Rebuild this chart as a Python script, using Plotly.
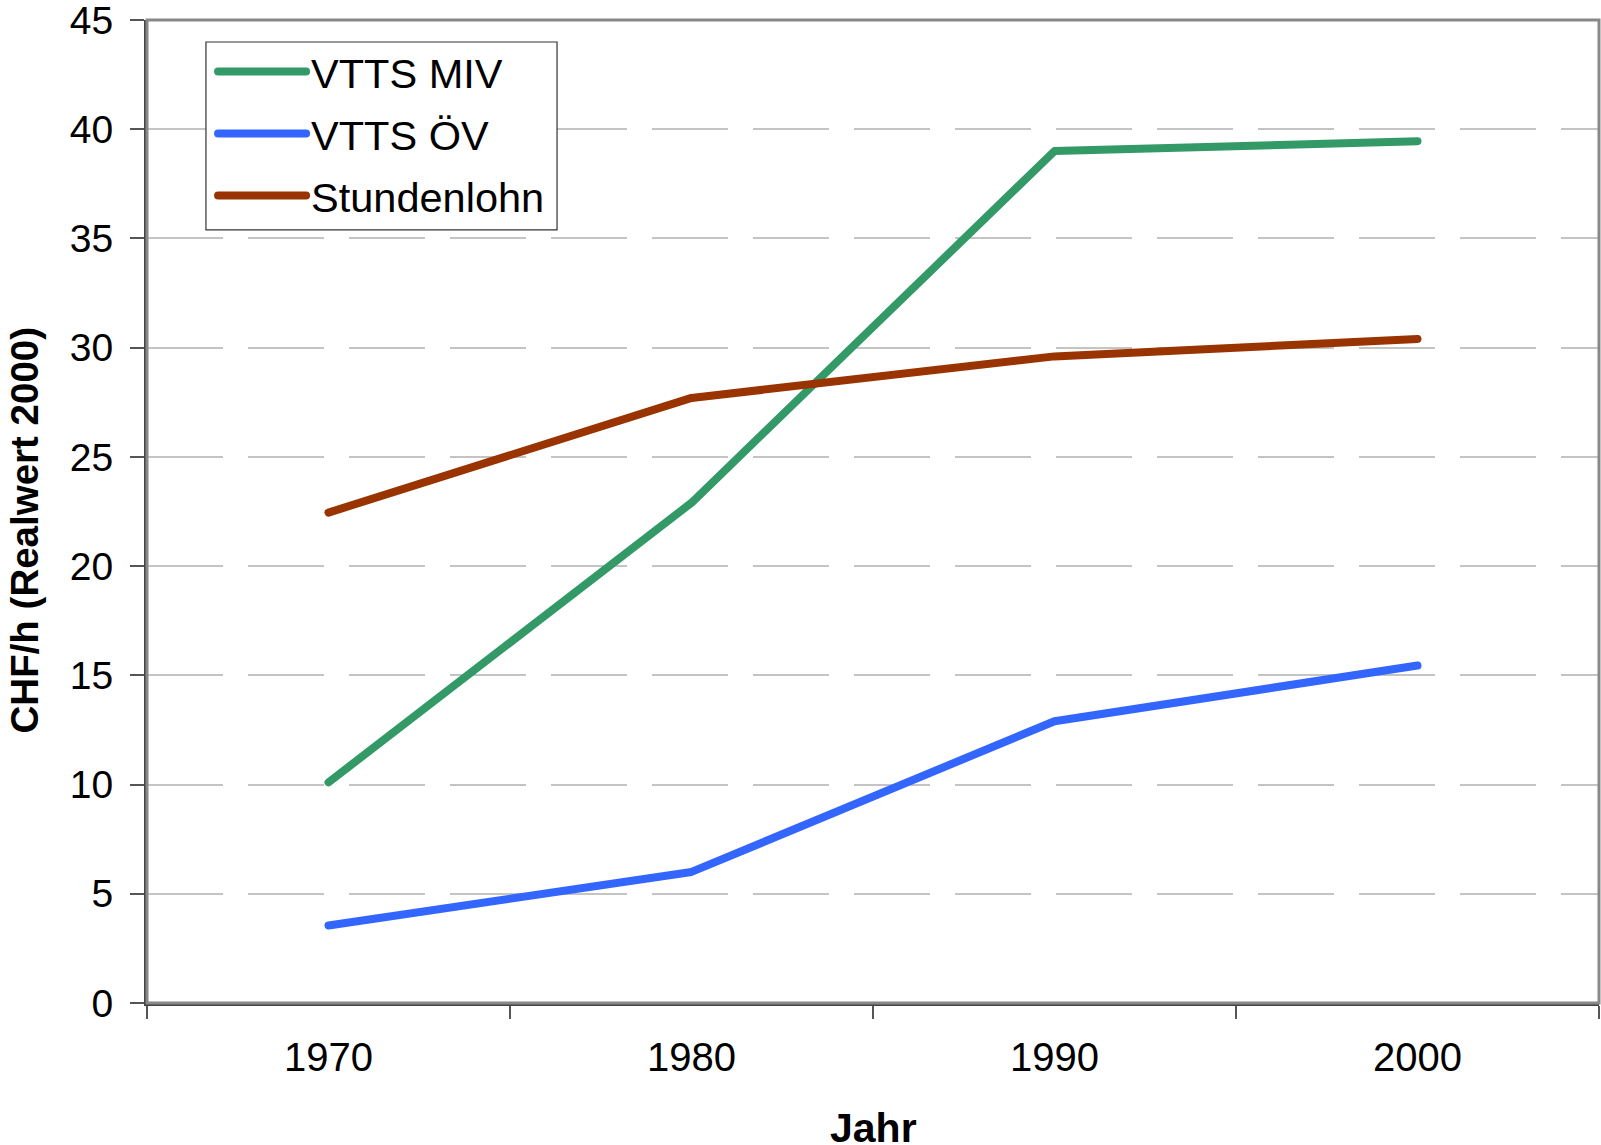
import plotly.graph_objects as go

years = ["1970", "1980", "1990", "2000"]
vtts_miv = [10.1, 22.9, 39.0, 39.45]
vtts_ov = [3.55, 6.0, 12.9, 15.45]
stundenlohn = [22.45, 27.7, 29.6, 30.4]
series_names = ["VTTS MIV", "VTTS ÖV", "Stundenlohn"]
series_colors = ["#339966", "#3366FF", "#993300"]
y_ticks = [0, 5, 10, 15, 20, 25, 30, 35, 40, 45]

FONT = "Liberation Sans, Arial, sans-serif"

fig = go.Figure()
for name, vals, col in zip(series_names, [vtts_miv, vtts_ov, stundenlohn], series_colors):
    fig.add_trace(go.Scatter(
        x=years, y=vals, name=name, mode="lines",
        line=dict(color=col, width=8),
        legendgroup=name,
    ))

fig.update_layout(
    width=1601, height=1145,
    margin=dict(l=147, r=2, t=20, b=142, autoexpand=False),
    paper_bgcolor="white", plot_bgcolor="white",
    font=dict(family=FONT, size=40, color="black"),
    showlegend=True,
    legend=dict(
        x=0.0455, y=0.9816, xanchor="left", yanchor="top",
        bgcolor="rgba(0,0,0,0)", borderwidth=0,
        font=dict(family=FONT, size=41.5, color="black"),
        itemwidth=88, traceorder="grouped", tracegroupgap=5,
    ),
    xaxis=dict(
        type="category", categoryorder="array", categoryarray=years,
        range=[-0.5, 3.5], tickson="boundaries", automargin=False,
        showgrid=False, zeroline=False,
        showline=True, linecolor="#444444", linewidth=3,
        ticks="outside", ticklen=13, tickwidth=2, tickcolor="#555555",
        ticklabelstandoff=17,
        tickfont=dict(family=FONT, size=40),
    ),
    yaxis=dict(
        range=[0, 45], tickmode="array", tickvals=y_ticks,
        ticktext=[str(v) for v in y_ticks], automargin=False,
        showgrid=True, gridcolor="#c4c4c4", gridwidth=1.5, griddash="76px,25px",
        zeroline=False,
        showline=True, linecolor="#444444", linewidth=3,
        ticks="outside", ticklen=14, tickwidth=2, tickcolor="#555555",
        ticklabelstandoff=9, ticklabeloverflow="allow",
        tickfont=dict(family=FONT, size=39),
    ),
    annotations=[
        dict(
            text="CHF/h (Realwert 2000)", textangle=-90,
            xref="paper", yref="paper", x=-0.0837, y=0.4812,
            xanchor="center", yanchor="middle", showarrow=False,
            font=dict(family=FONT, size=38.5, weight="bold", color="black"),
        ),
        dict(
            text="Jahr",
            xref="paper", yref="paper", x=0.5, y=-0.1272,
            xanchor="center", yanchor="middle", showarrow=False,
            font=dict(family=FONT, size=41, weight="bold", color="black"),
        ),
    ],
)

# plot-area frame
fig.add_shape(type="rect", xref="paper", yref="paper", x0=0, x1=1, y0=0, y1=1,
              line=dict(color="#888888", width=3), layer="above")
# legend box
fig.add_shape(type="rect", xref="paper", yref="paper", x0=0.0406, x1=0.2824, y0=0.7864, y1=0.9776,
              line=dict(color="#333333", width=1.2), fillcolor="white", layer="above")

post = (
    "document.body.style.margin='0';"
    "document.querySelectorAll('.scatterlayer .js-line, .legendlines path').forEach(function(p){"
    "p.style.strokeLinecap='round';p.style.strokeLinejoin='round';});"
)
fig.write_html("out.html", post_script=post, config={"displayModeBar": False})
